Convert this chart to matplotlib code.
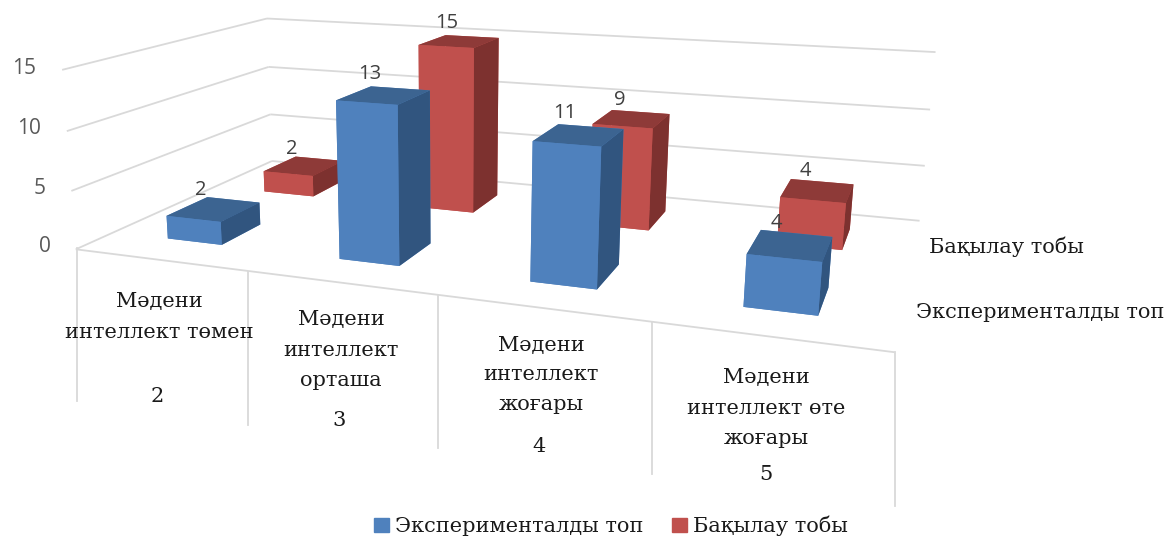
import numpy as np
import matplotlib
matplotlib.use('Agg')
from matplotlib import pyplot as plt
from matplotlib.lines import Line2D
from matplotlib.patches import Patch
from mpl_toolkits.mplot3d import Axes3D
from mpl_toolkits.mplot3d.art3d import Line3DCollection

# chart data
categories = ['Мәдени\nинтеллект төмен\n', 'Мәдени\nинтеллект\nорташа', 'Мәдени\nинтеллект\nжоғары', 'Мәдени\nинтеллект өте\nжоғары']
cat_numbers = ['2', '3', '4', '5']
exp_name = 'Эксперименталды топ'
ctrl_name = 'Бақылау тобы'
exp_values = [2, 13, 11, 4]
ctrl_values = [2, 15, 9, 4]
z_ticks = [0, 5, 10, 15]

W, H = 1168, 539

# camera: (category, series, value) -> picture pixels, fitted from the box corners
calib = [((0,0,0),(77,248)),((1,0,0),(248,272)),((2,0,0),(438,295)),((3,0,0),(652,322)),((4,0,0),(895,352)),
         ((0,2,0),(270,162)),((4,2,0),(920,220)),((0,0,5),(72,191)),((0,0,10),(67,131)),((0,0,15),(60,70)),
         ((0,2,5),(270,114)),((0,2,10),(270,67)),((0,2,15),(268,18)),((4,2,5),(925,166)),((4,2,10),(930,109)),((4,2,15),(935,53))]
A = []
for (X,Y,Z),(u,v) in calib:
    A.append([X,Y,Z,1,0,0,0,0,-u*X,-u*Y,-u*Z,-u])
    A.append([0,0,0,0,X,Y,Z,1,-v*X,-v*Y,-v*Z,-v])
P = np.linalg.svd(np.array(A,float))[2][-1].reshape(3,4)
P = P/P[2,3]
M = np.array([P[0], P[1], [0,0,0,-1.0], P[2]])

def project(x, y, z):
    p = P @ np.array([x, y, z, 1.0])
    return p[0]/p[2], p[1]/p[2]

fig = plt.figure(figsize=(W/100, H/100), dpi=100)
# square axes in pixel units, hanging off the bottom of the figure
ax = fig.add_axes([0, (H-W)/H, 1, W/H], projection='3d')
ax.get_proj = lambda: M
ax.viewLim.intervalx = (0, W)
ax.viewLim.intervaly = (W, 0)
ax.set_axis_off()
ax.computed_zorder = False

def label3d(x, y, z, s, **kw):
    u, v = project(x, y, z)
    ax.text2D(u, v, s, transform=ax.transData, ha='center', va='center', **kw)

grid = '#d9d9d9'
segs = [[(0,0,0),(4,0,0)]]
for z in z_ticks:
    segs.append([(0,0,z),(0,2,z)])
    segs.append([(0,2,z),(4,2,z)])
    u, v = project(-0.155, 0, z)
    ax.text2D(u, v, str(z), transform=ax.transData, ha='right', va='center', fontsize=15, family='Open Sans', color='#595959')
ax.add_collection3d(Line3DCollection(segs, colors=grid, linewidths=1.3, zorder=1))

# table lines under the floor
div_x = [77, 248, 438, 652, 895]
div_top = [248, 272, 295, 322, 352]
div_bot = [401, 425, 448, 474, 506]
for x,t,b in zip(div_x, div_top, div_bot):
    fig.add_artist(Line2D([x/W,x/W], [1-t/H,1-b/H], color=grid, lw=1.3))

blue = ['#4f81bd', '#3c6491', '#4f81bd', '#4f81bd', '#4f81bd', '#31557f']
red = ['#c0504d', '#8e3a38', '#c0504d', '#c0504d', '#c0504d', '#7d312f']
bar_w, bar_d = 0.325, 0.39
for s,(vals,cols) in enumerate([(ctrl_values,red),(exp_values,blue)]):
    row = 1-s
    for i,v in enumerate(vals):
        ax.bar3d(i+0.335, row+0.32, 0, bar_w, bar_d, v, color=cols, shade=False, linewidth=0, zorder=5+s)

for s,vals in enumerate([exp_values, ctrl_values]):
    for i,v in enumerate(vals):
        label3d(i+0.43, s+0.5, v+1.65, str(v), fontsize=14.5, family='Open Sans', color='#404040', zorder=10)

txt = '#1a1a1a'
serif = 'DejaVu Serif'
fs = 15
cat_x = [159, 341, 541, 766]
cat_y = [302, 320, 345, 378]
num_x = [157, 339, 539, 766]
num_y = [397, 420, 446, 475]
for i,c in enumerate(categories):
    for j,line in enumerate(c.split('\n')):
        if line:
            fig.text(cat_x[i]/W, 1-(cat_y[i]+j*30)/H, line, ha='center', va='center', fontsize=fs, family=serif, color=txt)
    fig.text(num_x[i]/W, 1-num_y[i]/H, cat_numbers[i], ha='center', va='center', fontsize=fs, family=serif, color=txt)

fig.text(1006/W, 1-247/H, ctrl_name, ha='center', va='center', fontsize=fs, family=serif, color=txt)
fig.text(1040/W, 1-313/H, exp_name, ha='center', va='center', fontsize=fs, family=serif, color=txt)

handles = [Patch(color='#4f81bd', label=exp_name), Patch(color='#c0504d', label=ctrl_name)]
fig.legend(handles=handles, loc='center', bbox_to_anchor=(611/W, 1-526/H), ncol=2, frameon=False,
           handlelength=0.7, handleheight=0.7, handletextpad=0.3, columnspacing=1.4,
           prop={'family':serif, 'size':fs}, labelcolor=txt)

fig.savefig('out.png', dpi=100)
plt.close()
